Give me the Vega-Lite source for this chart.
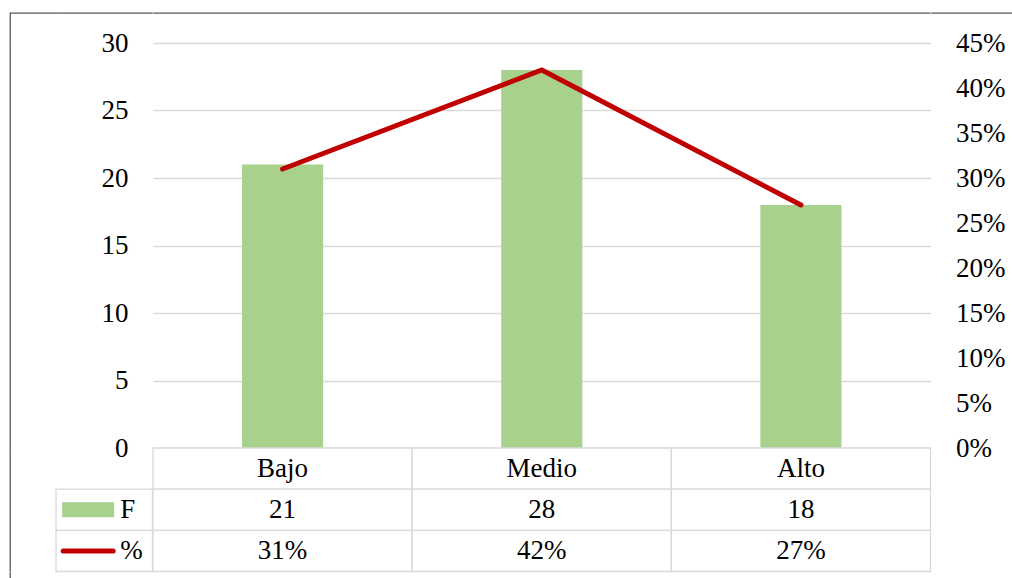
{
  "$schema": "https://vega.github.io/schema/vega-lite/v6.json",
  "padding": {"left": 9, "top": 12, "right": 0, "bottom": 0},
  "background": "white",
  "config": {
    "font": "Liberation Serif",
    "view": {"stroke": null},
    "text": {"font": "Liberation Serif", "fontSize": 27, "color": "black"},
    "axis": {"labelFont": "Liberation Serif", "labelFontSize": 27, "labelColor": "black"}
  },
  "datasets": {
    "main": [
      {"nivel": "Bajo", "F": 21, "pct": 0.31},
      {"nivel": "Medio", "F": 28, "pct": 0.42},
      {"nivel": "Alto", "F": 18, "pct": 0.27}
    ]
  },
  "columns": 4,
  "spacing": 0,
  "bounds": "flush",
  "align": "each",
  "concat": [
    {"width": 46, "height": 30, "data": {"values": []}, "mark": "point",
     "view": {"stroke": "#595959", "strokeWidth": 1.3, "strokeDash": [46, 76, 30]}},
    {"width": 96.5, "height": 30, "data": {"values": []}, "mark": "point",
     "view": {"stroke": "#595959", "strokeWidth": 1.3, "strokeDash": [96.5, 1000]}},
    {"width": 777.5, "height": 30, "data": {"values": []}, "mark": "point",
     "view": {"stroke": "#595959", "strokeWidth": 1.3, "strokeDash": [777.5, 3000]}},
    {"width": 82, "height": 30, "data": {"values": []}, "mark": "point",
     "view": {"stroke": "#595959", "strokeWidth": 1.3, "strokeDash": [82, 1000]}},

    {"width": 46, "height": 405, "data": {"values": []}, "mark": "point",
     "view": {"stroke": "#595959", "strokeWidth": 1.3, "strokeDash": [0, 497, 405]}},
    {"width": 96.5, "height": 405, "data": {"values": []}, "mark": "point"},
    {
      "width": 777.5,
      "height": 405,
      "data": {"name": "main"},
      "encoding": {
        "x": {"field": "nivel", "type": "nominal",
              "scale": {"domain": ["Bajo", "Medio", "Alto"], "paddingInner": 0.687, "paddingOuter": 0.3435},
              "axis": null}
      },
      "layer": [
        {
          "mark": {"type": "bar", "color": "#a9d18e"},
          "encoding": {
            "y": {"field": "F", "type": "quantitative",
                  "scale": {"domain": [0, 30], "nice": false},
                  "axis": {"orient": "left", "values": [0, 5, 10, 15, 20, 25, 30], "grid": true,
                           "gridColor": "#d9d9d9", "gridWidth": 1.3, "domain": false, "ticks": false,
                           "labelPadding": 25, "title": null}}
          }
        },
        {
          "mark": {"type": "line", "color": "#c00000", "strokeWidth": 5, "strokeCap": "round", "strokeJoin": "miter"},
          "encoding": {
            "y": {"field": "pct", "type": "quantitative",
                  "scale": {"domain": [0, 0.45], "nice": false},
                  "axis": {"orient": "right", "values": [0, 0.05, 0.1, 0.15, 0.2, 0.25, 0.3, 0.35, 0.4, 0.45],
                           "format": ".0%", "grid": false, "domain": false, "ticks": false,
                           "labelPadding": 25, "title": null}}
          }
        }
      ],
      "resolve": {"scale": {"y": "independent"}}
    },
    {"width": 82, "height": 405, "data": {"values": []}, "mark": "point"},

    {"width": 46, "height": 123.5, "data": {"values": []}, "mark": "point",
     "view": {"stroke": "#595959", "strokeWidth": 1.3, "strokeDash": [0, 215.5, 123.5]}},
    {
      "width": 96.5,
      "height": 123.5,
      "data": {"values": [{"row": "F", "label": "F"}, {"row": "pct", "label": "%"}]},
      "layer": [
        {
          "mark": {"type": "rect", "fill": "white", "stroke": "#d9d9d9", "strokeWidth": 1.3},
          "encoding": {
            "y": {"field": "row", "type": "nominal",
                  "scale": {"domain": ["nivel", "F", "pct"], "paddingInner": 0, "paddingOuter": 0},
                  "axis": null}
          }
        },
        {
          "transform": [{"filter": "datum.row === 'F'"}],
          "mark": {"type": "point", "shape": "M-1,-0.29H1V0.29H-1Z", "filled": true, "fill": "#a9d18e",
                   "strokeWidth": 0, "size": 2704, "opacity": 1},
          "encoding": {
            "x": {"datum": "sw", "type": "nominal",
                  "scale": {"type": "point", "domain": ["sw", "lb"], "padding": 1.13}, "axis": null},
            "y": {"field": "row", "type": "nominal"}
          }
        },
        {
          "transform": [{"filter": "datum.row === 'pct'"}],
          "mark": {"type": "point", "shape": "M-1,0H1", "filled": false, "stroke": "#c00000",
                   "strokeWidth": 5, "strokeCap": "round", "size": 2500, "opacity": 1},
          "encoding": {
            "x": {"datum": "sw", "type": "nominal"},
            "y": {"field": "row", "type": "nominal"}
          }
        },
        {
          "mark": {"type": "text", "align": "left", "baseline": "middle"},
          "encoding": {
            "x": {"datum": "lb", "type": "nominal"},
            "y": {"field": "row", "type": "nominal"},
            "text": {"field": "label"}
          }
        }
      ]
    },
    {
      "width": 777.5,
      "height": 123.5,
      "data": {"name": "main"},
      "layer": [
        {
          "transform": [{"fold": ["nivel", "F", "pct"], "as": ["row", "v"]}],
          "mark": {"type": "rect", "fill": "white", "stroke": "#d9d9d9", "strokeWidth": 1.3},
          "encoding": {
            "x": {"field": "nivel", "type": "nominal",
                  "scale": {"domain": ["Bajo", "Medio", "Alto"], "paddingInner": 0, "paddingOuter": 0},
                  "axis": null},
            "y": {"field": "row", "type": "nominal",
                  "scale": {"domain": ["nivel", "F", "pct"], "paddingInner": 0, "paddingOuter": 0},
                  "axis": null}
          }
        },
        {
          "mark": {"type": "text", "baseline": "middle"},
          "encoding": {
            "x": {"field": "nivel", "type": "nominal"},
            "y": {"datum": "nivel", "type": "nominal"},
            "text": {"field": "nivel"}
          }
        },
        {
          "mark": {"type": "text", "baseline": "middle"},
          "encoding": {
            "x": {"field": "nivel", "type": "nominal"},
            "y": {"datum": "F", "type": "nominal"},
            "text": {"field": "F", "type": "quantitative", "format": "d"}
          }
        },
        {
          "mark": {"type": "text", "baseline": "middle"},
          "encoding": {
            "x": {"field": "nivel", "type": "nominal"},
            "y": {"datum": "pct", "type": "nominal"},
            "text": {"field": "pct", "type": "quantitative", "format": ".0%"}
          }
        }
      ]
    },
    {"width": 82, "height": 123.5, "data": {"values": []}, "mark": "point"},

    {"width": 46, "height": 7, "data": {"values": []}, "mark": "point",
     "view": {"stroke": "#595959", "strokeWidth": 1.3, "strokeDash": [0, 99, 7]}},
    {"width": 96.5, "height": 7, "data": {"values": []}, "mark": "point"},
    {"width": 777.5, "height": 7, "data": {"values": []}, "mark": "point"},
    {"width": 82, "height": 7, "data": {"values": []}, "mark": "point"}
  ]
}
